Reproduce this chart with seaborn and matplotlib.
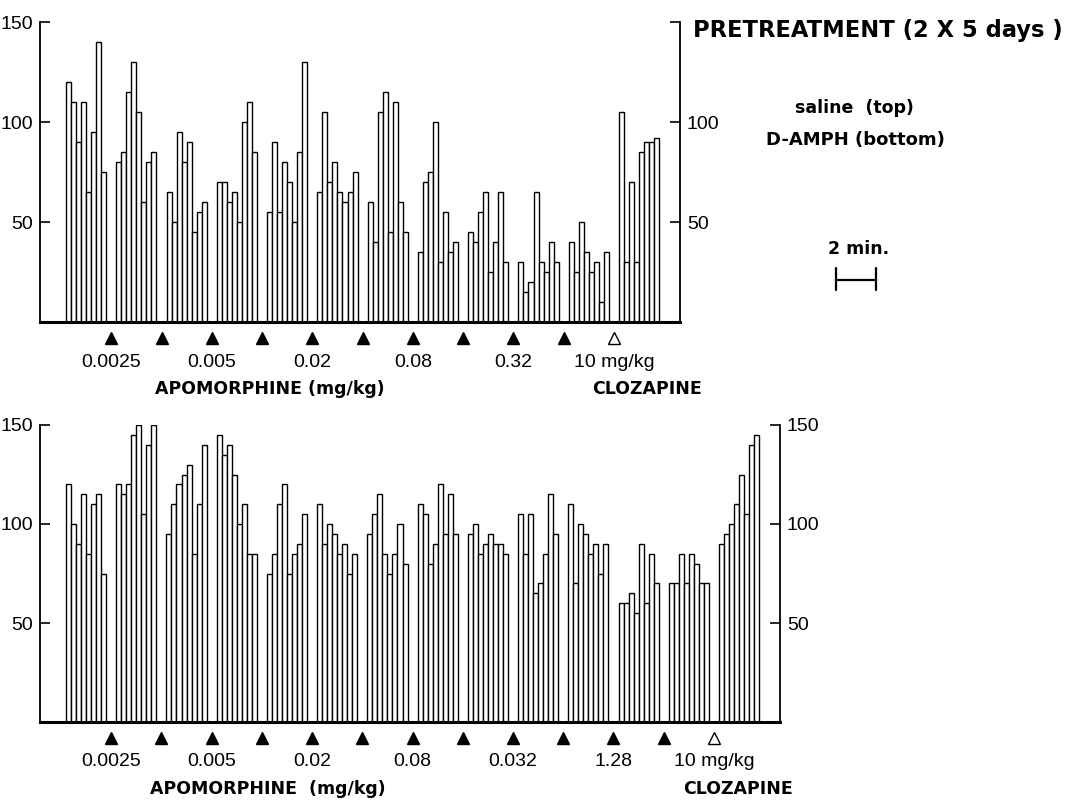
import numpy as np
import pandas as pd
import matplotlib
matplotlib.use("Agg")
import matplotlib.pyplot as plt
import seaborn as sns

# ---------------- data (activity counts per 15-s bin, 8 bins per block) -------------
top_blocks = [
    [120, 110, 90, 110, 65, 95, 140, 75],
    [80, 85, 115, 130, 105, 60, 80, 85],
    [65, 50, 95, 80, 90, 45, 55, 60],
    [70, 70, 60, 65, 50, 100, 110, 85],
    [55, 90, 55, 80, 70, 50, 85, 130],
    [65, 105, 70, 80, 65, 60, 65, 75],
    [60, 40, 105, 115, 45, 110, 60, 45],
    [35, 70, 75, 100, 30, 55, 35, 40],
    [45, 40, 55, 65, 25, 40, 65, 30],
    [30, 15, 20, 65, 30, 25, 40, 30],
    [40, 25, 50, 35, 25, 30, 10, 35],
    [105, 30, 70, 30, 85, 90, 90, 92],
]
bottom_blocks = [
    [120, 100, 90, 115, 85, 110, 115, 75],
    [120, 115, 120, 145, 150, 105, 140, 150],
    [95, 110, 120, 125, 130, 85, 110, 140],
    [145, 135, 140, 125, 100, 110, 85, 85],
    [75, 85, 110, 120, 75, 85, 90, 105],
    [110, 90, 100, 95, 85, 90, 75, 85],
    [95, 105, 115, 85, 75, 85, 100, 80],
    [110, 105, 80, 90, 120, 95, 115, 95],
    [95, 100, 85, 90, 95, 90, 90, 85],
    [105, 85, 105, 65, 70, 85, 115, 95],
    [110, 70, 100, 95, 85, 90, 75, 90],
    [60, 60, 65, 55, 90, 60, 85, 70],
    [70, 70, 85, 70, 85, 80, 70, 70],
    [90, 95, 100, 110, 125, 105, 140, 145],
]
top_dose_labels = ["0.0025", "", "0.005", "", "0.02", "", "0.08", "", "0.32", "", "10 mg/kg"]
top_injection_filled = [True] * 10 + [False]
bottom_dose_labels = ["0.0025", "", "0.005", "", "0.02", "", "0.08", "", "0.032", "",
                      "1.28", "", "10 mg/kg"]
bottom_injection_filled = [True] * 12 + [False]
y_ticks = [50, 100, 150]

BLOCK = 10          # bins per block incl. 2 empty bins for the injection gap
SCALE_BAR_BINS = 8  # 2 min = 8 bins


def to_frame(blocks):
    rows = []
    for b, vals in enumerate(blocks):
        for i, v in enumerate(vals):
            rows.append({"bin": b * BLOCK + i, "count": v})
    return pd.DataFrame(rows)


sns.set_theme(style="white")
plt.rcParams["font.family"] = ["Liberation Sans", "DejaVu Sans"]

fig = plt.figure(figsize=(10.74, 8.0), dpi=100)
W, H = 1074.0, 800.0
ax_top = fig.add_axes([40 / W, 1 - 322 / H, 640 / W, 300 / H])
ax_bot = fig.add_axes([40 / W, 1 - 722 / H, 740 / W, 297 / H])

bold = dict(family="DejaVu Sans", fontweight="bold")


def draw_panel(ax, blocks, doses, filled, xlim, height_px, right_top_label,
               apo_x, cloz_x, apo_text):
    df = to_frame(blocks)
    sns.barplot(data=df, x="bin", y="count", native_scale=True, width=1.0,
                color="white", edgecolor="black", linewidth=1.0,
                errorbar=None, ax=ax)
    ax.set_xlim(*xlim)
    ax.set_ylim(0, 150)
    ax.set_xlabel("")
    ax.set_ylabel("")
    ax.set_xticks([])
    ax.set_yticks(y_ticks)
    ax.set_yticklabels([str(t) for t in y_ticks])
    ax.tick_params(axis="y", which="both", direction="in", length=7, width=1.2,
                   left=True, right=True, labelleft=True, labelright=True,
                   labelsize=14, pad=5, colors="black")
    if not right_top_label:
        ax.yaxis.get_major_ticks()[-1].label2.set_visible(False)
    ax.spines["top"].set_visible(False)
    for s in ("left", "right"):
        ax.spines[s].set_linewidth(1.3)
        ax.spines[s].set_color("black")
    ax.spines["bottom"].set_linewidth(2.2)
    ax.spines["bottom"].set_color("black")
    ax.patch.set_alpha(0)

    tr = ax.get_xaxis_transform()
    inj_x = [8.5 + BLOCK * k for k in range(len(doses))]
    y_mark = -16.0 / height_px
    y_lab = -40.0 / height_px
    y_title = -67.0 / height_px
    for x, f, lab in zip(inj_x, filled, doses):
        ax.plot([x], [y_mark], marker="^", ms=8.5, ls="none",
                mfc="black" if f else "white", mec="black", mew=1.0,
                transform=tr, clip_on=False)
        if lab:
            ax.text(x, y_lab, lab, transform=tr, ha="center", va="center",
                    fontsize=14, color="black")
    ax.text(apo_x, y_title, apo_text, transform=tr, ha="center", va="center",
            fontsize=12.5, color="black", **bold)
    ax.text(cloz_x, y_title, "CLOZAPINE", transform=tr, ha="center", va="center",
            fontsize=12.5, color="black", **bold)


draw_panel(ax_top, top_blocks, top_dose_labels, top_injection_filled,
           (-5.67, 121.64), 300.0, False, 40.1, 115.1, "APOMORPHINE (mg/kg)")
draw_panel(ax_bot, bottom_blocks, bottom_dose_labels, bottom_injection_filled,
           (-5.67, 141.65), 297.0, True, 39.7, 133.3, "APOMORPHINE  (mg/kg)")

# annotations
fig.text(693 / W, 1 - 31 / H, "PRETREATMENT (2 X 5 days )", ha="left", va="center",
         fontsize=16.3, color="black", **bold)
fig.text(854 / W, 1 - 108 / H, "saline  (top)", ha="center", va="center",
         fontsize=12.5, color="black", **bold)
fig.text(855 / W, 1 - 140 / H, "D-AMPH (bottom)", ha="center", va="center",
         fontsize=13, color="black", **bold)
fig.text(859 / W, 1 - 249 / H, "2 min.", ha="center", va="center",
         fontsize=12.5, color="black", **bold)

# 2-minute scale bar (in bin units of the top panel)
x0 = 152.7
ax_top.plot([x0, x0 + SCALE_BAR_BINS], [21, 21], color="black", lw=1.6, clip_on=False)
for xe in (x0, x0 + SCALE_BAR_BINS):
    ax_top.plot([xe, xe], [16, 27], color="black", lw=1.6, clip_on=False)

fig.savefig("out.png", dpi=100, facecolor="white")
